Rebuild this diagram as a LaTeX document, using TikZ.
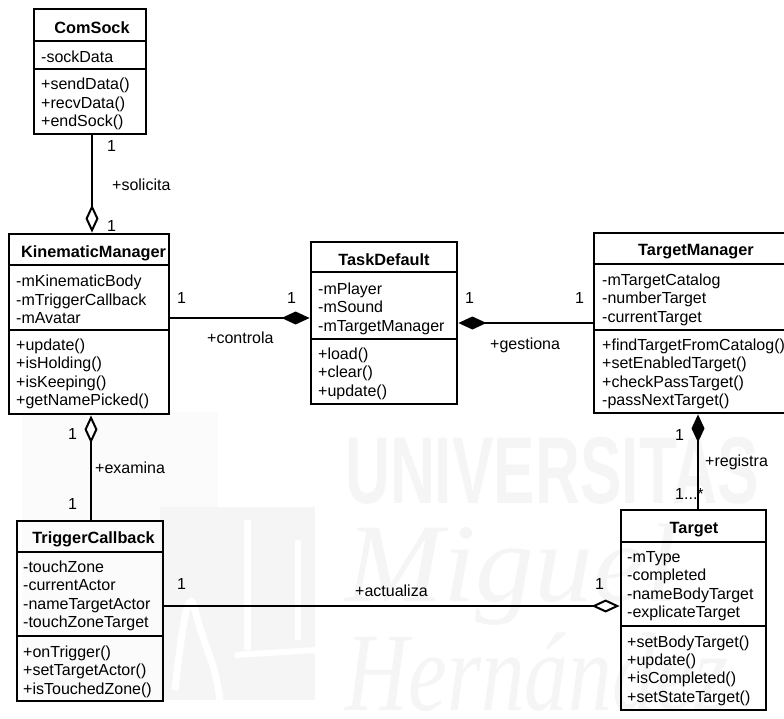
\documentclass[tikz,border=0pt]{standalone}
\usepackage{fontspec}
\setmainfont{Liberation Sans}
\newfontfamily\markserif{Liberation Serif}
\usetikzlibrary{arrows.meta}
\definecolor{markgray}{gray}{.96}
\definecolor{markfaint}{gray}{.985}
\tikzset{
  classbox/.style={draw, line width=2.8pt, minimum width=#1, inner sep=0pt},
  classrule/.style={line width=2.8pt},
  classname/.style={font=\fontsize{16.3}{18}\selectfont\bfseries, inner sep=0pt},
  classtext/.style={anchor=west, align=left, inner sep=0pt, font=\fontsize{16}{18.4}\selectfont},
  assoclabel/.style={anchor=west, inner sep=0pt, font=\fontsize{16}{18}\selectfont},
  aggreg/.style={line width=2pt, {Diamond[open, fill=white, length=28pt, width=13pt, line width=2pt]}-},
  composit/.style={line width=2pt, {Diamond[length=28pt, width=13pt]}-},
}
\begin{document}
\begin{tikzpicture}[x=1pt, y=-1pt]
\useasboundingbox (0,0) rectangle (784,718);
\clip (0,0) rectangle (784,718);

% watermark
\fill[markfaint] (22,412) rectangle (218,507);
\fill[markfaint] (22,507) rectangle (160,700);
\fill[markgray] (160,507) rectangle (315,700);
\draw[white, line width=7pt] (247,520) -- (247,650);
\draw[white, line width=6pt] (298,540) -- (298,640);
\draw[white, line width=7pt] (175,690) .. controls (185,600) and (190,590) .. (195,610) .. controls (205,650) and (215,660) .. (220,700);
\draw[white, line width=6pt] (235,655) -- (315,650);
\node[markgray, inner sep=0pt, anchor=west, xscale=.655] (markuni) at (345,471) {\fontsize{95}{95}\selectfont\bfseries UNIVERSITAS};
\node[markgray, inner sep=0pt, anchor=west, xscale=1.05] (markfirst) at (345,575) {\fontsize{112}{112}\selectfont\markserif\itshape Miguel};
\node[markgray, inner sep=0pt, anchor=west, xscale=.78] (marksecond) at (345,672) {\fontsize{112}{112}\selectfont\markserif\itshape Hernández};

% classes
\node[classbox=112pt, minimum height=125pt] (comsock) at (90,71.5) {};
\draw[classrule] (comsock.west |- 0,41) -- (comsock.east |- 0,41);
\draw[classrule] (comsock.west |- 0,69) -- (comsock.east |- 0,69);
\node[classname] (comsockname) at (92,28) {ComSock};
\node[classtext] (comsockattr) at (41,57) {-sockData};
\node[classtext] (comsockops) at (41,104) {+sendData()\\+recvData()\\+endSock()};

\node[classbox=160pt, minimum height=180pt] (kinematic) at (89,324) {};
\draw[classrule] (kinematic.west |- 0,265) -- (kinematic.east |- 0,265);
\draw[classrule] (kinematic.west |- 0,330) -- (kinematic.east |- 0,330);
\node[classname] (kinematicname) at (93.5,253) {KinematicManager};
\node[classtext] (kinematicattr) at (16,299.5) {-mKinematicBody\\-mTriggerCallback\\-mAvatar};
\node[classtext] (kinematicops) at (16,374) {+update()\\+isHolding()\\+isKeeping()\\+getNamePicked()};

\node[classbox=146pt, minimum height=162pt] (task) at (384,323) {};
\draw[classrule] (task.west |- 0,272) -- (task.east |- 0,272);
\draw[classrule] (task.west |- 0,339) -- (task.east |- 0,339);
\node[classname] (taskname) at (384,260) {TaskDefault};
\node[classtext] (taskattr) at (318,308.5) {-mPlayer\\-mSound\\-mTargetManager};
\node[classtext] (taskops) at (318,373.5) {+load()\\+clear()\\+update()};

\node[classbox=200pt, minimum height=180pt] (targetman) at (694,323) {};
\draw[classrule] (targetman.west |- 0,264) -- (targetman.east |- 0,264);
\draw[classrule] (targetman.west |- 0,330) -- (targetman.east |- 0,330);
\node[classname] (targetmanname) at (696,252) {TargetManager};
\node[classtext] (targetmanattr) at (602,299.5) {-mTargetCatalog\\-numberTarget\\-currentTarget};
\node[classtext] (targetmanops) at (602,374) {+findTargetFromCatalog()\\+setEnabledTarget()\\+checkPassTarget()\\-passNextTarget()};

\node[classbox=146pt, minimum height=180pt] (trigger) at (90,611) {};
\draw[classrule] (trigger.west |- 0,552) -- (trigger.east |- 0,552);
\draw[classrule] (trigger.west |- 0,636) -- (trigger.east |- 0,636);
\node[classname] (triggername) at (93.5,539) {TriggerCallback};
\node[classtext] (triggerattr) at (23,596) {-touchZone\\-currentActor\\-nameTargetActor\\-touchZoneTarget};
\node[classtext] (triggerops) at (23,671.5) {+onTrigger()\\+setTargetActor()\\+isTouchedZone()};

\node[classbox=145pt, minimum height=200pt] (target) at (693.5,610) {};
\draw[classrule] (target.west |- 0,542) -- (target.east |- 0,542);
\draw[classrule] (target.west |- 0,626) -- (target.east |- 0,626);
\node[classname] (targetname) at (694,530) {Target};
\node[classtext] (targetattr) at (627,586) {-mType\\-completed\\-nameBodyTarget\\-explicateTarget};
\node[classtext] (targetops) at (627,670.5) {+setBodyTarget()\\+update()\\+isCompleted()\\+setStateTarget()};

% connectors
\draw[aggreg] (kinematic.north -| 92,0) -- (comsock.south -| 92,0);
\draw[composit] (task.west |- 0,318) -- (kinematic.east |- 0,318);
\draw[composit] (task.east |- 0,323) -- (targetman.west |- 0,323);
\draw[aggreg] (kinematic.south -| 91,0) -- (trigger.north -| 91,0);
\draw[composit] (targetman.south -| 698,0) -- (target.north -| 698,0);
\draw[aggreg] (target.west |- 0,606) -- (trigger.east |- 0,606);

% labels
\node[assoclabel] (l1) at (107,146) {1};
\node[assoclabel] (l2) at (107,226) {1};
\node[assoclabel] (solicita) at (112,185) {+solicita};
\node[assoclabel] (l3) at (177,298) {1};
\node[assoclabel] (l4) at (287,298) {1};
\node[assoclabel] (controla) at (207,338) {+controla};
\node[assoclabel] (l5) at (465,298) {1};
\node[assoclabel] (l6) at (575,298) {1};
\node[assoclabel] (gestiona) at (490,345) {+gestiona};
\node[assoclabel] (l7) at (675,435) {1};
\node[assoclabel] (registra) at (705,462) {+registra};
\node[assoclabel] (l8) at (675,494) {1...*};
\node[assoclabel] (l9) at (68,434) {1};
\node[assoclabel] (examina) at (95,468) {+examina};
\node[assoclabel] (l10) at (68,504) {1};
\node[assoclabel] (l11) at (177,584) {1};
\node[assoclabel] (actualiza) at (355,591) {+actualiza};
\node[assoclabel] (l12) at (595,584) {1};
\end{tikzpicture}
\end{document}
